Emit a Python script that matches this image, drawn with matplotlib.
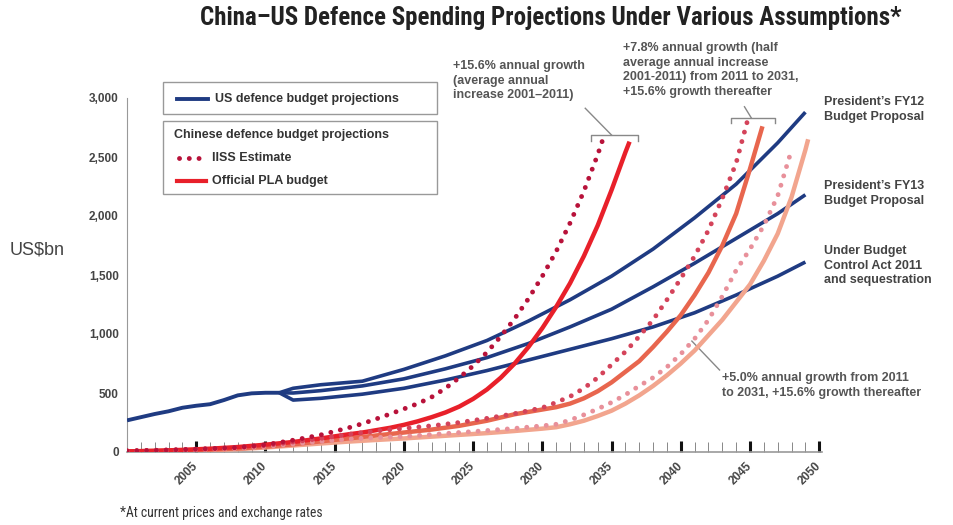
import matplotlib
matplotlib.use("Agg")
import matplotlib.pyplot as plt
from matplotlib.lines import Line2D
from matplotlib.patches import Rectangle
from matplotlib import font_manager

plt.rcParams['font.family'] = ['Liberation Sans', 'DejaVu Sans']

W, H = 954, 525

# ---- US defence budget (US$bn) ----
us_hist_years = [2000, 2001, 2002, 2003, 2004, 2005, 2006, 2007, 2008, 2009, 2010, 2011]
us_hist = [268, 295, 322, 345, 375, 392, 405, 440, 480, 497, 502, 502]

us_proj_years = [2011, 2012, 2014, 2017, 2020, 2023, 2026, 2029, 2032, 2035, 2038, 2041, 2044, 2047, 2049]
us_fy12 = [502, 540, 570, 600, 700, 815, 945, 1110, 1290, 1490, 1720, 1985, 2270, 2620, 2880]
us_fy13 = [502, 500, 520, 560, 620, 705, 800, 920, 1060, 1210, 1400, 1600, 1810, 2020, 2180]
us_bca = [502, 440, 455, 490, 540, 610, 690, 780, 870, 960, 1060, 1180, 1330, 1490, 1610]

# ---- Chinese defence budget projections (US$bn) ----
# +15.6% a year
cn156_years = [2000, 2002, 2004, 2006, 2008, 2010, 2011, 2012, 2013, 2014, 2015, 2016, 2017,
               2018, 2019, 2020, 2021, 2022, 2023, 2024, 2025, 2026, 2027, 2028, 2029,
               2030, 2031, 2032, 2033, 2034, 2034.4]
cn156_iiss = [10, 14, 20, 28, 38, 62, 80, 100, 122, 145, 175, 205, 240,
              280, 322, 365, 410, 465, 540, 630, 730, 845, 980, 1130, 1300,
              1490, 1700, 1940, 2210, 2520, 2660]
cn156_pla_years = [2000, 2002, 2004, 2006, 2008, 2010, 2012, 2014, 2016, 2017, 2018, 2019, 2020,
                   2021, 2022, 2023, 2024, 2025, 2026, 2027, 2028, 2029, 2030, 2031, 2032,
                   2033, 2034, 2035, 2036, 2036.3]
cn156_pla = [5, 10, 18, 28, 42, 62, 85, 115, 150, 165, 185, 205, 230,
             260, 295, 335, 385, 450, 530, 630, 750, 890, 1050, 1230, 1430,
             1660, 1920, 2220, 2540, 2630]

# +7.8% to 2031, +15.6% thereafter
cn78_iiss_years = [2000, 2002, 2004, 2006, 2008, 2010, 2012, 2014, 2016, 2018, 2020, 2022, 2024,
                   2026, 2028, 2030, 2031, 2032, 2033, 2034, 2035, 2036, 2037, 2038, 2039,
                   2040, 2041, 2042, 2043, 2044, 2044.8]
cn78_iiss = [10, 14, 20, 28, 38, 55, 85, 115, 150, 178, 200, 222, 250,
             285, 325, 375, 420, 470, 540, 630, 740, 850, 980, 1120, 1290,
             1470, 1660, 1880, 2150, 2450, 2800]
cn78_pla_years = [2000, 2002, 2004, 2006, 2008, 2010, 2012, 2014, 2016, 2018, 2020, 2022, 2024,
                  2026, 2028, 2030, 2031, 2032, 2033, 2034, 2035, 2036, 2037, 2038, 2039,
                  2040, 2041, 2042, 2043, 2044, 2045, 2045.9]
cn78_pla = [5, 9, 14, 20, 30, 45, 65, 90, 115, 140, 165, 190, 222,
            265, 320, 360, 380, 410, 455, 515, 590, 680, 770, 890, 1020,
            1160, 1330, 1520, 1750, 2020, 2400, 2760]

# +5.0% to 2031, +15.6% thereafter
cn50_iiss_years = [2000, 2002, 2004, 2006, 2008, 2010, 2012, 2014, 2016, 2018, 2020, 2022, 2024,
                   2026, 2028, 2030, 2031, 2032, 2033, 2034, 2035, 2036, 2037, 2038, 2039,
                   2040, 2041, 2042, 2043, 2044, 2045, 2046, 2047, 2048]
cn50_iiss = [6, 10, 15, 21, 30, 45, 68, 90, 110, 122, 132, 148, 165,
             182, 200, 222, 235, 270, 315, 365, 420, 485, 560, 630, 720,
             830, 960, 1120, 1320, 1540, 1720, 1920, 2170, 2560]
cn50_pla_years = [2000, 2002, 2004, 2006, 2008, 2010, 2012, 2014, 2016, 2018, 2020, 2022, 2024,
                  2026, 2028, 2030, 2031, 2032, 2033, 2034, 2035, 2036, 2037, 2038, 2039,
                  2040, 2041, 2042, 2043, 2044, 2045, 2046, 2047, 2048, 2049, 2049.2]
cn50_pla = [3, 6, 10, 15, 24, 38, 55, 72, 88, 102, 115, 130, 145,
            160, 178, 198, 210, 235, 265, 305, 350, 410, 480, 560, 650,
            750, 860, 990, 1120, 1270, 1420, 1620, 1850, 2160, 2560, 2650]

yticks = [0, 500, 1000, 1500, 2000, 2500, 3000]
ytick_labels = ['0', '500', '1,000', '1,500', '2,000', '2,500', '3,000']
xticks = list(range(2005, 2051, 5))

NAVY = '#1f3b82'
TXT = '#444444'
DOT = (0, (0.01, 2.0))

# a condensed face for the title, if the system has one
names = {f.name for f in font_manager.fontManager.ttflist}
cond = [n for n in ('Liberation Sans Narrow', 'DejaVu Sans Condensed', 'Roboto Condensed',
                    'Open Sans Condensed') if n in names]
TITLE_FAM = cond + ['Liberation Sans', 'DejaVu Sans']


def fx(px):
    return px / W


def fy(py):
    return 1 - py / H


fig = plt.figure(figsize=(W / 100, H / 100), dpi=100)
ax = fig.add_axes([fx(127), fy(452), (822 - 127) / W, (452 - 98) / H])

# US lines
ax.plot(us_hist_years, us_hist, color=NAVY, lw=2.8, solid_capstyle='butt', zorder=3)
for vals in (us_fy12, us_fy13, us_bca):
    ax.plot(us_proj_years, vals, color=NAVY, lw=2.6, solid_capstyle='butt', zorder=3)

# Chinese lines
ax.plot(cn50_pla_years, cn50_pla, color='#f2a58e', lw=3.2, solid_capstyle='butt', zorder=4)
ax.plot(cn50_iiss_years, cn50_iiss, color='#e8909a', lw=3.5, ls=DOT, dash_capstyle='round', zorder=5)
ax.plot(cn78_pla_years, cn78_pla, color='#e8664e', lw=3.2, solid_capstyle='butt', zorder=4)
ax.plot(cn78_iiss_years, cn78_iiss, color='#d4435a', lw=3.5, ls=DOT, dash_capstyle='round', zorder=5)
ax.plot(cn156_pla_years, cn156_pla, color='#e8202a', lw=3.2, solid_capstyle='butt', zorder=4)
ax.plot(cn156_years, cn156_iiss, color='#b8123a', lw=3.5, ls=DOT, dash_capstyle='round', zorder=5)

ax.set_xlim(2000, 2050.2)
ax.set_ylim(0, 3000)
for s in ('top', 'right'):
    ax.spines[s].set_visible(False)
ax.spines['left'].set_color('#999999')
ax.spines['bottom'].set_color('#999999')
ax.spines['bottom'].set_linewidth(1.2)

ax.set_yticks(yticks)
ax.set_yticklabels(ytick_labels)
ax.tick_params(axis='y', length=0, pad=6, labelsize=8.5, labelcolor=TXT)
for t in ax.get_yticklabels():
    t.set_fontweight('bold')

ax.set_xticks(xticks)
ax.set_xticks([y for y in range(2001, 2051) if y % 5], minor=True)
ax.set_xticklabels([str(x) for x in xticks], rotation=45, ha='right',
                   va='center', rotation_mode='anchor')
ax.tick_params(axis='x', which='major', direction='in', length=8, width=2.2,
               color='#111111', pad=9, labelsize=8.5, labelcolor=TXT)
ax.tick_params(axis='x', which='minor', direction='in', length=7, width=0.7,
               color='#888888')
for t in ax.get_xticklabels():
    t.set_fontweight('bold')

# brackets and leader lines
ax.plot([2033.5, 2033.5, 2036.9, 2036.9], [2636, 2686, 2686, 2636], color='#888888', lw=1, clip_on=False)
ax.plot([2033.1, 2035.0], [2913, 2686], color='#888888', lw=1, clip_on=False)
ax.plot([2043.6, 2043.6, 2046.8, 2046.8], [2788, 2830, 2830, 2788], color='#888888', lw=1, clip_on=False)
ax.plot([2044.6, 2045.1], [2926, 2830], color='#888888', lw=1, clip_on=False)
ax.plot([2042.8, 2040.8], [695, 940], color='#888888', lw=1, clip_on=False)

# title, axis label, footnote
fig.text(fx(551), fy(18), 'China\u2013US Defence Spending Projections Under Various Assumptions*',
         ha='center', va='center', fontsize=15 if not cond else 18, fontweight='bold',
         color='#222222', family=TITLE_FAM)
fig.text(fx(10), fy(250), 'US$bn', ha='left', va='center', fontsize=13, color=TXT)
fig.text(fx(120), fy(513), '*At current prices and exchange rates', ha='left', va='center',
         fontsize=8.8 if not cond else 9.8, color='#333333', family=TITLE_FAM)

# annotations
ann = dict(ha='left', va='top', fontsize=9, fontweight='bold', color='#555555', linespacing=1.3)
fig.text(fx(453), fy(60), '+15.6% annual growth\n(average annual\nincrease 2001\u20132011)', **ann)
fig.text(fx(623), fy(42), '+7.8% annual growth (half\naverage annual increase\n'
         '2001-2011) from 2011 to 2031,\n+15.6% growth thereafter', **ann)
fig.text(fx(722), fy(372), '+5.0% annual growth from 2011\nto 2031, +15.6% growth thereafter', **ann)

lab = dict(ha='left', va='top', fontsize=9, fontweight='bold', color=TXT, linespacing=1.3)
fig.text(fx(824), fy(96), 'President\u2019s FY12\nBudget Proposal', **lab)
fig.text(fx(824), fy(180), 'President\u2019s FY13\nBudget Proposal', **lab)
fig.text(fx(824), fy(245), 'Under Budget\nControl Act 2011\nand sequestration', **lab)

# legend boxes
for (y0, y1) in ((82, 114), (121, 194)):
    fig.add_artist(Rectangle((fx(163), fy(y1)), (437 - 163) / W, (y1 - y0) / H,
                             transform=fig.transFigure, facecolor='white',
                             edgecolor='#999999', lw=1, zorder=10))
fig.add_artist(Line2D([fx(177), fx(208)], [fy(99), fy(99)], color=NAVY, lw=2.8, zorder=11))
fig.add_artist(Line2D([fx(179), fx(201)], [fy(158), fy(158)], color='#b8123a', lw=3.5,
                      ls=DOT, dash_capstyle='round', zorder=11))
fig.add_artist(Line2D([fx(177), fx(206)], [fy(181), fy(181)], color='#e8202a', lw=3, zorder=11))
leg = dict(ha='left', va='center', fontsize=9, fontweight='bold', color='#333333', zorder=12)
fig.text(fx(215), fy(99), 'US defence budget projections', **leg)
fig.text(fx(174), fy(135), 'Chinese defence budget projections', **leg)
fig.text(fx(212), fy(158), 'IISS Estimate', **leg)
fig.text(fx(212), fy(181), 'Official PLA budget', **leg)

fig.savefig('out.png', dpi=100)
